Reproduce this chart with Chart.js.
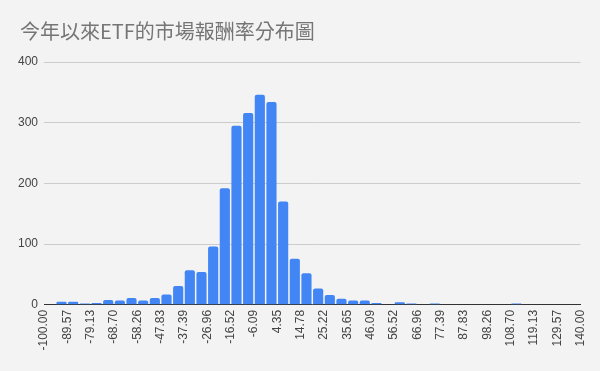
<!DOCTYPE html>
<html>
<head>
<meta charset="utf-8">
<script src="https://cdn.jsdelivr.net/npm/chart.js@4.4.1/dist/chart.umd.min.js"></script>
<style>
  html, body { margin: 0; padding: 0; background: #f3f3f3; }
  #c { display: block; background: #f3f3f3; }
</style>
</head>
<body>
<canvas id="c" width="600" height="371"></canvas>
<script>
// ---- data ----
const chartTitle = "今年以來ETF的市場報酬率分布圖";
const binStart = -100;
const binEnd = 140;
const binCount = 46;
const counts = [
  0, 5, 5, 2, 3, 8, 7, 11, 7, 11,
  17, 31, 57, 54, 96, 192, 295, 316, 346, 334,
  170, 76, 52, 27, 16, 10, 7, 7, 3, 0,
  4, 2, 0, 2, 0, 0, 0, 0, 0, 0,
  2, 0, 0, 0, 0, 0
];
const tickLabels = [
  "-100.00", "-89.57", "-79.13", "-68.70", "-58.26", "-47.83", "-37.39", "-26.96",
  "-16.52", "-6.09", "4.35", "14.78", "25.22", "35.65", "46.09", "56.52",
  "66.96", "77.39", "87.83", "98.26", "108.70", "119.13", "129.57", "140.00"
];
const yTicks = [0, 100, 200, 300, 400];

// ---- build dataset ----
const binWidth = (binEnd - binStart) / binCount;
const points = counts.map((v, i) => ({ x: binStart + (i + 0.5) * binWidth, y: v }));
const tickValues = tickLabels.map(s => parseFloat(s));

const titlePlugin = {
  id: 'leftTitle',
  afterDraw(chart) {
    const ctx = chart.ctx;
    ctx.save();
    ctx.fillStyle = '#757575';
    ctx.font = "20px 'Noto Sans CJK TC', 'Liberation Sans', Arial, sans-serif";
    ctx.textAlign = 'left';
    ctx.textBaseline = 'middle';
    ctx.fillText(chartTitle, 20, 31);
    ctx.restore();
  }
};

new Chart(document.getElementById('c'), {
  type: 'bar',
  data: {
    datasets: [{
      data: points,
      backgroundColor: '#4285f4',
      borderWidth: 0,
      borderRadius: { topLeft: 2, topRight: 2, bottomLeft: 0, bottomRight: 0 },
      borderSkipped: 'bottom',
      barPercentage: 0.87,
      categoryPercentage: 1.0
    }]
  },
  plugins: [titlePlugin],
  options: {
    responsive: false,
    animation: false,
    layout: { padding: { left: 12, right: 16, top: 62, bottom: 15.5 } },
    plugins: {
      legend: { display: false },
      tooltip: { enabled: false },
      title: { display: false }
    },
    scales: {
      x: {
        type: 'linear',
        min: binStart,
        max: binEnd,
        offset: false,
        afterBuildTicks: (axis) => { axis.ticks = tickValues.map(v => ({ value: v })); },
        ticks: {
          autoSkip: false,
          minRotation: 90,
          maxRotation: 90,
          padding: 5,
          color: '#444444',
          font: { family: "'Liberation Sans', Arial, sans-serif", size: 12 },
          callback: (value, index) => tickLabels[index]
        },
        grid: { display: false, drawTicks: false },
        border: { display: true, color: '#333333', width: 1 }
      },
      y: {
        min: 0,
        max: 400,
        afterBuildTicks: (axis) => { axis.ticks = yTicks.map(v => ({ value: v })); },
        ticks: {
          padding: 6,
          color: '#444444',
          font: { family: "'Liberation Sans', Arial, sans-serif", size: 12 }
        },
        grid: { color: '#cccccc', drawTicks: false, lineWidth: 1 },
        border: { display: false }
      }
    }
  }
});
</script>
</body>
</html>
